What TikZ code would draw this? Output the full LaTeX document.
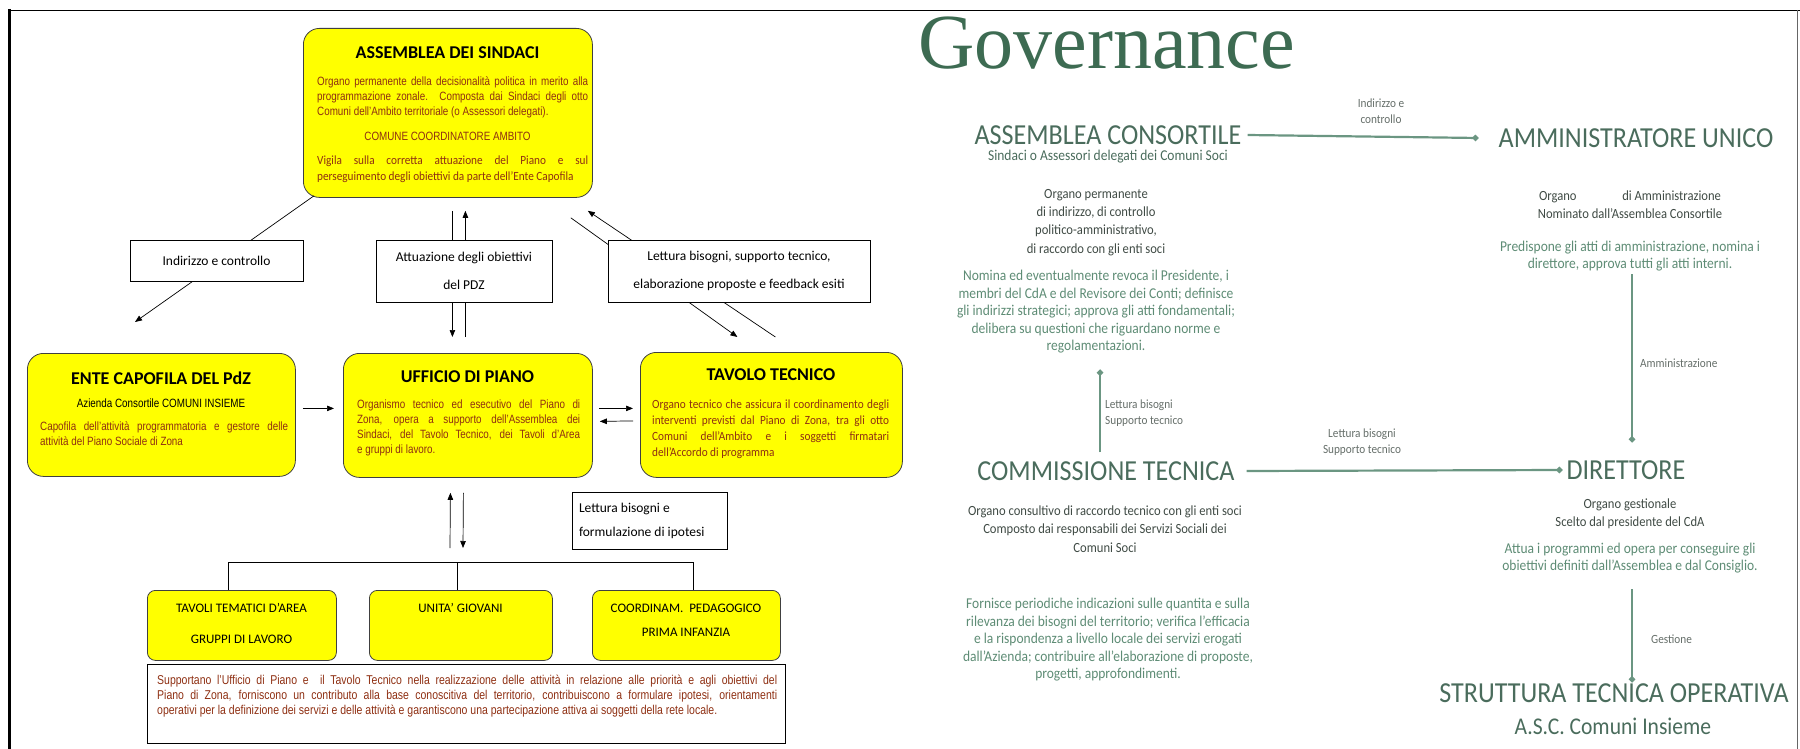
\documentclass[tikz,border=0pt]{standalone}
\usepackage{fontspec}
\setmainfont{Carlito}
\newfontfamily\narrowfont[FakeStretch=0.82]{Liberation Sans}
\newfontfamily\govfont{Liberation Serif}
\newfontfamily\condfont[FakeStretch=0.9]{Carlito}
\usetikzlibrary{arrows.meta}

\definecolor{yfill}{HTML}{FFFF00}
\definecolor{brn}{HTML}{8E2F12}
\definecolor{gdark}{HTML}{3F4A44}
\definecolor{gtext}{HTML}{5E8C75}
\definecolor{gtitle}{HTML}{4A6C5C}
\definecolor{gline}{HTML}{6B9682}
\definecolor{ggov}{HTML}{3D6B52}

\newcommand{\fsz}[2]{\fontsize{#1}{#2}\selectfont}
\newcommand{\jline}[2]{\makebox[#1][s]{#2}}

\tikzset{
  ybox/.style={draw=black!75, fill=yfill, rounded corners=16pt, line width=0.8pt, inner sep=0pt},
  ysmall/.style={ybox, rounded corners=8pt},
  wbox/.style={draw=black, fill=white, line width=0.7pt, align=center, font=\fsz{13.5}{28}},
  ttl/.style={font=\fsz{18}{20}\bfseries, inner sep=0pt},
  lowt/.style={font=\fsz{13}{15}, inner sep=0pt},
  narrow/.style={font=\narrowfont\fsz{12}{15}, text=brn, inner sep=0pt, align=left},
  calib/.style={font=\condfont\fsz{12.5}{16}, text=brn, inner sep=0pt, align=left},
  arr/.style={-{Triangle[length=7pt,width=5.5pt]}, line width=0.7pt},
  gt/.style={font=\condfont\fsz{29}{30}, text=gtitle, inner sep=0pt},
  gsub/.style={font=\condfont\fsz{15}{17}, text=gtitle, inner sep=0pt},
  gdk/.style={font=\condfont\fsz{14}{18.3}, text=gdark, align=center, inner sep=0pt},
  ggr/.style={font=\condfont\fsz{15}{17.5}, text=gtext, align=center, inner sep=0pt},
  glab/.style={font=\condfont\fsz{12.5}{16}, text=gdark!80, align=left, inner sep=0pt},
  gcon/.style={draw=gline, line width=2.2pt, -{Circle[length=6pt]}},
}

\begin{document}
\begin{tikzpicture}[x=1pt,y=-1pt]
\useasboundingbox (0,0) rectangle (1800,749);
% frame
\draw[line width=0.8pt] (8,10) -- (1800,10);
\draw[line width=3pt] (9,9) -- (9,749);
\draw[line width=1pt, black!60] (1797,10) -- (1797,749);

% left panel, yellow boxes
\node[ybox, minimum width=289pt, minimum height=169pt, anchor=north west] (asm) at (303,28) {};
\node[ttl] (asmT) at (447.5,53) {ASSEMBLEA DEI SINDACI};
\node[narrow, anchor=north west] (asmP) at (317,76) {\jline{271pt}{Organo permanente della decisionalità politica in merito alla}\\\jline{271pt}{programmazione zonale. Composta dai Sindaci degli otto}\\Comuni dell’Ambito territoriale (o Assessori delegati).};
\node[narrow] (asmC) at (447.5,136) {COMUNE COORDINATORE AMBITO};
\node[calib, anchor=north west] (asmV) at (317,156) {\jline{271pt}{Vigila sulla corretta attuazione del Piano e sul}\\perseguimento degli obiettivi da parte dell’Ente Capofila};

\node[ybox, minimum width=268pt, minimum height=123pt, anchor=north west] (ente) at (27,353) {};
\node[ttl] (enteT) at (161,378) {ENTE CAPOFILA DEL PdZ};
\node[narrow, text=black] (enteA) at (161,403) {Azienda Consortile COMUNI INSIEME};
\node[narrow, anchor=north west] (enteP) at (40,421) {\jline{248pt}{Capofila dell’attività programmatoria e gestore delle}\\attività del Piano Sociale di Zona};

\node[ybox, minimum width=249pt, minimum height=124pt, anchor=north west] (uff) at (343,353) {};
\node[ttl] (uffT) at (467.5,377) {UFFICIO DI PIANO};
\node[narrow, anchor=north west] (uffP) at (357,400) {\jline{223pt}{Organismo tecnico ed esecutivo del Piano di}\\\jline{223pt}{Zona, opera a supporto dell’Assemblea dei}\\\jline{223pt}{Sindaci, del Tavolo Tecnico, dei Tavoli d’Area}\\e gruppi di lavoro.};

\node[ybox, minimum width=262pt, minimum height=125pt, anchor=north west] (tav) at (640,352) {};
\node[ttl] (tavT) at (771,375) {TAVOLO TECNICO};
\node[calib, anchor=north west] (tavP) at (652,400) {\jline{237pt}{Organo tecnico che assicura il coordinamento degli}\\\jline{237pt}{interventi previsti dal Piano di Zona, tra gli otto}\\\jline{237pt}{Comuni dell’Ambito e i soggetti firmatari}\\dell’Accordo di programma};

\node[ysmall, minimum width=189pt, minimum height=70pt, anchor=north west] (tem) at (147,590) {};
\node[lowt] (temA) at (241.5,608) {TAVOLI TEMATICI D’AREA};
\node[lowt] (temB) at (241.5,639) {GRUPPI DI LAVORO};
\node[ysmall, minimum width=183pt, minimum height=70pt, anchor=north west] (giov) at (369,590) {};
\node[lowt] (giovA) at (460.5,608) {UNITA’ GIOVANI};
\node[ysmall, minimum width=188pt, minimum height=70pt, anchor=north west] (ped) at (592,590) {};
\node[lowt] (pedA) at (686,608) {COORDINAM.\ \ PEDAGOGICO};
\node[lowt] (pedB) at (686,632) {PRIMA INFANZIA};

\node[draw, line width=0.7pt, minimum width=638pt, minimum height=79pt, anchor=north west, inner sep=0pt] (supp) at (147,664) {};
\node[narrow, font=\narrowfont\fsz{12.8}{15}, anchor=north west] (suppP) at (157,675) {\jline{620pt}{Supportano l’Ufficio di Piano e\ \ il Tavolo Tecnico nella realizzazione delle attività in relazione alle priorità e agli obiettivi del}\\\jline{620pt}{Piano di Zona, forniscono un contributo alla base conoscitiva del territorio, contribuiscono a formulare ipotesi, orientamenti}\\operativi per la definizione dei servizi e delle attività e garantiscono una partecipazione attiva ai soggetti della rete locale.};

% left panel, connectors
\coordinate (indtip) at (135,322);
\draw[arr] ([xshift=11pt,yshift=2pt]asm.south west) -- (indtip);
\draw[arr] ([xshift=4.5pt,yshift=-13pt]asm.south) -- ([xshift=-15.5pt,yshift=16pt]uff.north);
\draw[arr] ([xshift=-2.5pt,yshift=16pt]uff.north) -- ([xshift=17.5pt,yshift=-13pt]asm.south);
\draw[arr] ([xshift=4pt,yshift=15pt]tav.north) -- ([xshift=-5pt,yshift=-13pt]asm.south east);
\draw[arr] ([xshift=-22pt,yshift=-20pt]asm.south east) -- ([xshift=-34pt,yshift=15pt]tav.north);
\draw[arr] ([xshift=7pt,yshift=6.5pt]ente.east) -- ([xshift=-9pt,yshift=7pt]uff.west);
\draw[arr] ([xshift=6pt,yshift=7pt]uff.east) -- ([xshift=-7pt,yshift=6.5pt]tav.west);
\draw[arr] ([xshift=-7pt,yshift=-6pt]tav.west) -- ([xshift=7pt,yshift=-6pt]uff.east);

\coordinate (barL) at (228,562);
\coordinate (barM) at (457,562);
\coordinate (barR) at (693,562);
\draw[line width=0.7pt] (barL |- tem.north) -- (barL) -- (barR) -- (barR |- ped.north);
\draw[line width=0.7pt] (barM) -- (barM |- giov.north);
\draw[arr] ([xshift=-7pt,yshift=14pt]barM) -- ([xshift=-17.5pt,yshift=-15pt]uff.south);
\draw[arr] ([xshift=-4.5pt,yshift=-15pt]uff.south) -- ([xshift=6pt,yshift=14pt]barM);

% left panel, label boxes
\node[wbox, minimum width=173pt, minimum height=41pt] (ind) at (216.5,260.5) {Indirizzo e controllo};
\node[wbox, minimum width=176pt, minimum height=62pt] (att) at (464,271) {Attuazione degli obiettivi\\del PDZ};
\node[wbox, minimum width=262pt, minimum height=62pt] (let) at (739,271) {Lettura bisogni, supporto tecnico,\\elaborazione proposte e feedback esiti};
\node[wbox, minimum width=155pt, minimum height=57pt, text width=141pt, align=flush left, font=\fsz{13.5}{24}] (let2) at (649.5,520.5) {Lettura bisogni e\\formulazione di ipotesi};

% right panel
\node[font=\govfont\fsz{78}{80}, text=ggov, anchor=base west, inner sep=0pt] (gov) at (918,69) {Governance};
\node[gt] (acons) at (1108,135) {ASSEMBLEA CONSORTILE};
\node[gsub] (aconsS) at (1108,157) {Sindaci o Assessori delegati dei Comuni Soci};
\node[gdk] (aconsD) at (1096,222.5) {Organo permanente\\di indirizzo, di controllo\\politico-amministrativo,\\di raccordo con gli enti soci};
\node[ggr] (aconsN) at (1096,312) {Nomina ed eventualmente revoca il Presidente, i\\membri del CdA e del Revisore dei Conti; definisce\\gli indirizzi strategici; approva gli atti fondamentali;\\delibera su questioni che riguardano norme e\\regolamentazioni.};
\node[gt] (amm) at (1636,138) {AMMINISTRATORE UNICO};
\node[gdk] (ammD) at (1630,205) {Organo \hspace{40pt} di Amministrazione\\Nominato dall’Assemblea Consortile};
\node[ggr] (ammP) at (1630,256) {Predispone gli atti di amministrazione, nomina i\\direttore, approva tutti gli atti interni.};
\node[gt] (comm) at (1106,471) {COMMISSIONE TECNICA};
\node[gdk] (commD) at (1105,529) {Organo consultivo di raccordo tecnico con gli enti soci\\Composto dai responsabili dei Servizi Sociali dei\\Comuni Soci};
\node[ggr] (commF) at (1108,640) {Fornisce periodiche indicazioni sulle quantita e sulla\\rilevanza dei bisogni del territorio; verifica l’efficacia\\e la rispondenza a livello locale dei servizi erogati\\dall’Azienda; contribuire all’elaborazione di proposte,\\progetti, approfondimenti.};
\node[gt] (dir) at (1626,470) {DIRETTORE};
\node[gdk] (dirD) at (1630,514) {Organo gestionale\\Scelto dal presidente del CdA};
\node[ggr] (dirA) at (1630,558) {Attua i programmi ed opera per conseguire gli\\obiettivi definiti dall’Assemblea e dal Consiglio.};
\node[gt] (sto) at (1614,693) {STRUTTURA TECNICA OPERATIVA};
\node[gt, font=\condfont\fsz{24}{26}] (stoS) at (1613,726) {A.S.C. Comuni Insieme};

\draw[gcon] ([xshift=6pt]acons.east) -- ([xshift=-20pt]amm.west);
\draw[gcon] ([xshift=-6pt,yshift=9pt]comm.north) -- ([xshift=4pt,yshift=-16pt]aconsN.south);
\draw[gcon] ([xshift=12pt]comm.east) -- ([xshift=-4pt]dir.west);
\draw[gcon] ([xshift=2pt,yshift=-3pt]ammP.south) -- ([xshift=6pt,yshift=18pt]dir.north);
\draw[gcon] ([xshift=2pt,yshift=-16pt]dirA.south) -- ([xshift=18pt,yshift=1pt]sto.north);

\node[glab, align=center] (lb1) at (1381,111) {Indirizzo e\\controllo};
\node[glab, anchor=west] (lb2) at (1105,413) {Lettura bisogni\\Supporto tecnico};
\node[glab, align=center] (lb3) at (1362,442) {Lettura bisogni\\Supporto tecnico};
\node[glab, anchor=west] (lb4) at (1640,363) {Amministrazione};
\node[glab, anchor=west] (lb5) at (1651,639) {Gestione};
\end{tikzpicture}
\end{document}
